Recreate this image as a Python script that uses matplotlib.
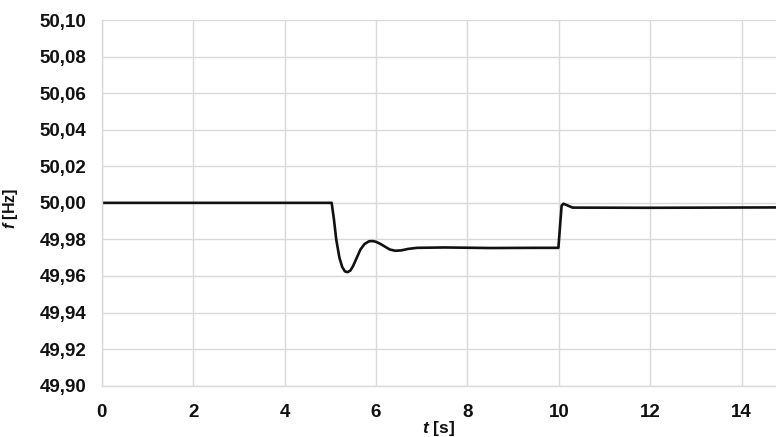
import matplotlib
matplotlib.use("Agg")
import matplotlib.pyplot as plt
from matplotlib.ticker import FixedLocator, FuncFormatter

plt.rcParams['font.family'] = ['Liberation Sans', 'DejaVu Sans']
plt.rcParams['mathtext.fontset'] = 'custom'
plt.rcParams['mathtext.it'] = 'Liberation Sans:italic:bold'
plt.rcParams['mathtext.rm'] = 'Liberation Sans:bold'

t = [0, 5.03, 5.08, 5.13, 5.2, 5.26, 5.32, 5.38, 5.44, 5.5, 5.58, 5.66, 5.75, 5.85,
     5.93, 6.0, 6.1, 6.2, 6.3, 6.42, 6.55, 6.7, 6.9, 7.5, 8.5, 9.5, 9.99, 10.06,
     10.1, 10.15, 10.3, 12, 14.75]
f = [50.0, 50.0, 49.991, 49.980, 49.970, 49.965, 49.9625, 49.9621, 49.963, 49.9655,
     49.970, 49.9745, 49.9775, 49.979, 49.9791, 49.9787, 49.9775, 49.976, 49.9745,
     49.9738, 49.974, 49.9748, 49.9754, 49.9756, 49.9753, 49.9754, 49.9754, 49.9985,
     49.9995, 49.999, 49.9974, 49.9973, 49.9975]

xticks = [0, 2, 4, 6, 8, 10, 12, 14]
yticks = [49.90, 49.92, 49.94, 49.96, 49.98, 50.00, 50.02, 50.04, 50.06, 50.08, 50.10]

fig = plt.figure(figsize=(7.76, 4.37), dpi=100)
ax = fig.add_axes([101.7/776, 1 - 385.7/437, 1 - 101.7/776, (385.7 - 20)/437])

ax.plot(t, f, color='#111111', lw=1.9, solid_joinstyle='round')

ax.set_xlim(0, 14.75)
ax.set_ylim(49.90, 50.10)
ax.xaxis.set_major_locator(FixedLocator(xticks))
ax.yaxis.set_major_locator(FixedLocator(yticks))
ax.yaxis.set_major_formatter(FuncFormatter(lambda v, p: f"{v:.2f}".replace('.', ',')))
ax.xaxis.set_major_formatter(FuncFormatter(lambda v, p: f"{v:.0f}"))

ax.grid(True, color='#d9d9d9', lw=1.0)
ax.set_axisbelow(True)
for s in ['top', 'right']:
    ax.spines[s].set_visible(False)
for s in ['left', 'bottom']:
    ax.spines[s].set_color('#d9d9d9')
    ax.spines[s].set_linewidth(1.0)

ax.tick_params(axis='both', length=0, labelsize=13.5)
ax.tick_params(axis='x', pad=13)
ax.tick_params(axis='y', pad=11)
for lab in ax.get_xticklabels() + ax.get_yticklabels():
    lab.set_fontweight('bold')
    lab.set_color('#111111')

ax.set_xlabel(r'$t$ [s]', fontsize=12.5, fontweight='bold', color='#111111')
ax.xaxis.set_label_coords((438 - 101.7) / (776 - 101.7), -(419 - 385.7) / (385.7 - 20))
ax.set_ylabel(r'$f$ [Hz]', fontsize=11.5, fontweight='bold', color='#111111')
ax.yaxis.set_label_coords(-(101.7 - 20) / (776 - 101.7), (385.7 - 208) / (385.7 - 20))

fig.savefig('out.png', dpi=100)
